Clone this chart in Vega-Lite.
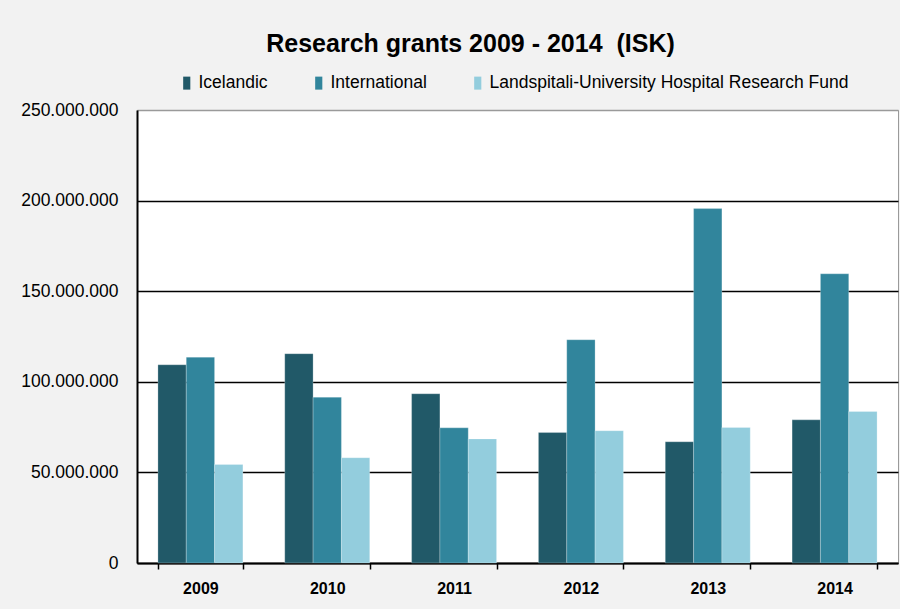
{
  "$schema": "https://vega.github.io/schema/vega-lite/v6.json",
  "width": 761,
  "height": 453,
  "autosize": {"type": "none"},
  "padding": {"left": 137, "top": 110, "right": 2, "bottom": 46},
  "background": "#f2f2f2",
  "title": {
    "text": "Research grants 2009 - 2014 \u00a0(ISK)",
    "font": "Liberation Sans",
    "fontSize": 25,
    "fontWeight": "bold",
    "color": "#000000",
    "anchor": "middle",
    "dx": -47,
    "offset": 17
  },
  "data": {
    "values": [
      {"year": "2009", "source": "Icelandic", "amount": 109400000},
      {"year": "2009", "source": "International", "amount": 113600000},
      {"year": "2009", "source": "Landspitali-University Hospital Research Fund", "amount": 54400000},
      {"year": "2010", "source": "Icelandic", "amount": 115500000},
      {"year": "2010", "source": "International", "amount": 91500000},
      {"year": "2010", "source": "Landspitali-University Hospital Research Fund", "amount": 58100000},
      {"year": "2011", "source": "Icelandic", "amount": 93400000},
      {"year": "2011", "source": "International", "amount": 74600000},
      {"year": "2011", "source": "Landspitali-University Hospital Research Fund", "amount": 68500000},
      {"year": "2012", "source": "Icelandic", "amount": 72000000},
      {"year": "2012", "source": "International", "amount": 123200000},
      {"year": "2012", "source": "Landspitali-University Hospital Research Fund", "amount": 73000000},
      {"year": "2013", "source": "Icelandic", "amount": 66900000},
      {"year": "2013", "source": "International", "amount": 195600000},
      {"year": "2013", "source": "Landspitali-University Hospital Research Fund", "amount": 74800000},
      {"year": "2014", "source": "Icelandic", "amount": 79000000},
      {"year": "2014", "source": "International", "amount": 159600000},
      {"year": "2014", "source": "Landspitali-University Hospital Research Fund", "amount": 83600000}
    ]
  },
  "mark": {"type": "bar", "stroke": "#ffffff", "strokeOpacity": 0.35, "strokeWidth": 0.7},
  "encoding": {
    "x": {
      "field": "year",
      "type": "nominal",
      "scale": {"paddingInner": 0.33, "paddingOuter": 0.165},
      "axis": {
        "title": null,
        "labelAngle": 0,
        "labelFont": "Liberation Sans",
        "labelFontSize": 16,
        "labelFontWeight": "bold",
        "labelColor": "#000000",
        "labelPadding": 11,
        "domainColor": "#000000",
        "domainWidth": 2,
        "tickColor": "#000000",
        "tickWidth": 1.5,
        "tickSize": 6,
        "tickBand": "extent",
        "grid": false
      }
    },
    "xOffset": {"field": "source", "type": "nominal"},
    "y": {
      "field": "amount",
      "type": "quantitative",
      "scale": {"domain": [0, 250000000], "nice": false},
      "axis": {
        "title": null,
        "values": [0, 50000000, 100000000, 150000000, 200000000, 250000000],
        "format": ",d",
        "labelFont": "Liberation Sans",
        "labelFontSize": 17.5,
        "labelColor": "#000000",
        "labelPadding": 19,
        "ticks": false,
        "domainColor": "#000000",
        "domainWidth": 2,
        "grid": true,
        "gridColor": {"condition": {"test": "datum.value >= 250000000", "value": "#9a9a9a"}, "value": "#000000"},
        "gridWidth": 1.5
      }
    },
    "color": {
      "field": "source",
      "type": "nominal",
      "scale": {
        "domain": ["Icelandic", "International", "Landspitali-University Hospital Research Fund"],
        "range": ["#215968", "#31859c", "#93cddd"]
      },
      "legend": {
        "title": null,
        "orient": "none",
        "legendX": 41,
        "legendY": -36,
        "direction": "horizontal",
        "symbolType": "M-0.55,-1H0.55V1H-0.55Z",
        "symbolSize": 169,
        "symbolStrokeWidth": 0,
        "labelFont": "Liberation Sans",
        "labelFontSize": 17.5,
        "labelColor": "#000000",
        "labelOffset": 3,
        "labelLimit": 0,
        "columnPadding": 42
      }
    }
  },
  "config": {
    "locale": {"number": {"decimal": ",", "thousands": ".", "grouping": [3], "currency": ["", ""]}},
    "view": {"fill": "#ffffff", "stroke": "#9a9a9a", "strokeWidth": 1}
  }
}
